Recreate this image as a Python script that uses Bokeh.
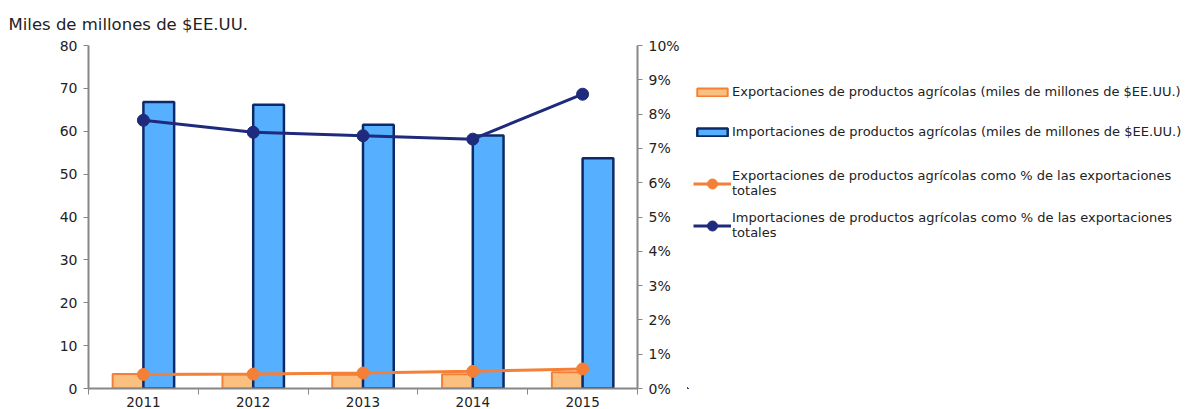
from bokeh.plotting import figure
from bokeh.layouts import row
from bokeh.models import (Range1d, LinearAxis, FixedTicker, PrintfTickFormatter,
                          Legend, LegendItem, ColumnDataSource)
from bokeh.embed import file_html
from bokeh.resources import INLINE

# ---- data ----
years = ["2011", "2012", "2013", "2014", "2015"]
exp_bn = [3.4, 3.3, 3.2, 3.3, 3.8]          # exports, bn US$
imp_bn = [66.8, 66.2, 61.5, 59.0, 53.7]     # imports, bn US$
exp_pct = [0.41, 0.42, 0.45, 0.50, 0.57]    # exports as % of total exports
imp_pct = [7.82, 7.47, 7.37, 7.27, 8.58]    # imports as % of total exports
left_ticks = [0, 10, 20, 30, 40, 50, 60, 70, 80]
right_ticks = [0, 1, 2, 3, 4, 5, 6, 7, 8, 9, 10]
labels = [
    "Exportaciones de productos agrícolas (miles de millones de $EE.UU.)",
    "Importaciones de productos agrícolas (miles de millones de $EE.UU.)",
    "Exportaciones de productos agrícolas como % de las exportaciones\ntotales",
    "Importaciones de productos agrícolas como % de las exportaciones\ntotales",
]

FONT = "DejaVu Sans"
AX = "#878787"
TXT = "#222222"
ORANGE = "#F47F37"
ORANGE_FILL = "#FBC07F"
BLUE_FILL = "#56B0FF"
NAVY_EDGE = "#0E2A66"
NAVY = "#1F2A7D"

xc = [i + 0.5 for i in range(len(years))]
bw = 0.28
src = ColumnDataSource(dict(
    xc=xc,
    xe=[v - bw / 2 for v in xc],
    xi=[v + bw / 2 for v in xc],
    exp_bn=exp_bn, imp_bn=imp_bn, exp_pct=exp_pct, imp_pct=imp_pct,
))


def draw_series(fig, pct_range):
    """Draw the four series on a figure; returns the renderers."""
    eb = fig.vbar(x="xe", top="exp_bn", width=bw, source=src,
                  fill_color=ORANGE_FILL, line_color=ORANGE, line_width=2)
    ib = fig.vbar(x="xi", top="imp_bn", width=bw, source=src,
                  fill_color=BLUE_FILL, line_color=NAVY_EDGE, line_width=2.5)
    il = fig.line(x="xc", y="imp_pct", source=src, y_range_name=pct_range,
                  line_color=NAVY, line_width=3)
    is_ = fig.scatter(x="xc", y="imp_pct", source=src, y_range_name=pct_range,
                      size=12, fill_color=NAVY, line_color=NAVY)
    el = fig.line(x="xc", y="exp_pct", source=src, y_range_name=pct_range,
                  line_color=ORANGE, line_width=3)
    es = fig.scatter(x="xc", y="exp_pct", source=src, y_range_name=pct_range,
                     size=12, fill_color=ORANGE, line_color=ORANGE)
    return eb, ib, el, es, il, is_


p = figure(width=687, height=409, output_backend="svg", toolbar_location=None,
           x_range=Range1d(0, len(years)), y_range=Range1d(0, 80),
           min_border_left=88, min_border_right=50, min_border_top=43,
           min_border_bottom=21)
p.extra_y_ranges = {"pct": Range1d(0, 10)}
p.grid.visible = False
p.outline_line_color = None
p.background_fill_color = "white"
p.border_fill_color = "white"

# title
p.title.text = "Miles de millones de $EE.UU."
p.title.align = "left"
p.title.vertical_align = "bottom"
p.title.offset = -80
p.title.standoff = 24
p.title.text_font = FONT
p.title.text_font_size = "16.5px"
p.title.text_font_style = "normal"
p.title.text_color = TXT

draw_series(p, "pct")

# axes
xa = p.xaxis[0]
xa.ticker = FixedTicker(ticks=xc, minor_ticks=list(range(len(years) + 1)))
xa.major_label_overrides = {v: y for v, y in zip(xc, years)}
xa.major_tick_out = 0
xa.major_tick_in = 0
xa.minor_tick_out = 6
xa.minor_tick_in = 0
xa.minor_tick_line_color = AX
xa.minor_tick_line_width = 1
xa.axis_line_color = AX
xa.axis_line_width = 2
xa.major_label_standoff = 2
xa.major_label_text_font = FONT
xa.major_label_text_font_size = "13.5px"
xa.major_label_text_color = TXT

ya = p.yaxis[0]
ya.ticker = FixedTicker(ticks=left_ticks)
ya.minor_tick_line_color = None
ya.major_tick_out = 5
ya.major_tick_in = 0
ya.major_tick_line_color = AX
ya.axis_line_color = AX
ya.axis_line_width = 2
ya.major_label_standoff = 6
ya.major_label_text_font = FONT
ya.major_label_text_font_size = "14px"
ya.major_label_text_color = TXT

ra = LinearAxis(y_range_name="pct", ticker=FixedTicker(ticks=right_ticks),
                formatter=PrintfTickFormatter(format="%d%%"))
ra.minor_tick_line_color = None
ra.major_tick_out = 5
ra.major_tick_in = 0
ra.major_tick_line_color = AX
ra.axis_line_color = AX
ra.axis_line_width = 2
ra.major_label_standoff = 6
ra.major_label_text_font = FONT
ra.major_label_text_font_size = "14px"
ra.major_label_text_color = TXT
p.add_layout(ra, "right")

# ---- legend panel: same series, ranges chosen so nothing shows but the legend ----
lg = figure(width=502, height=409, output_backend="svg", toolbar_location=None,
            x_range=Range1d(6, 7), y_range=Range1d(90, 91),
            x_axis_type=None, y_axis_type=None,
            min_border=0, min_border_left=0, min_border_right=0,
            min_border_top=0, min_border_bottom=0)
lg.extra_y_ranges = {"pct": Range1d(11, 12)}
lg.title.visible = False
lg.grid.visible = False
lg.outline_line_color = None
lg.background_fill_color = "white"
lg.border_fill_color = "white"

le_b, li_b, le_l, le_s, li_l, li_s = draw_series(lg, "pct")


def style(leg, gh, sp):
    leg.border_line_alpha = 0
    leg.background_fill_alpha = 0
    leg.padding = 0
    leg.margin = 0
    leg.spacing = sp
    leg.glyph_width = 38
    leg.glyph_height = gh
    leg.label_standoff = 1
    leg.label_text_font = FONT
    leg.label_text_font_size = "13px"
    leg.label_text_color = TXT


leg_a = Legend(items=[LegendItem(label=labels[0], renderers=[le_b]),
                      LegendItem(label=labels[1], renderers=[li_b])],
               location=(6, 249))
style(leg_a, 10, 25)
leg_b = Legend(items=[LegendItem(label=labels[2], renderers=[le_l, le_s]),
                      LegendItem(label=labels[3], renderers=[li_l, li_s])],
               location=(6, 148))
style(leg_b, 25, 12)
lg.add_layout(leg_a)
lg.add_layout(leg_b)

layout = row(p, lg)
open("out.html", "w").write(file_html(layout, INLINE))
